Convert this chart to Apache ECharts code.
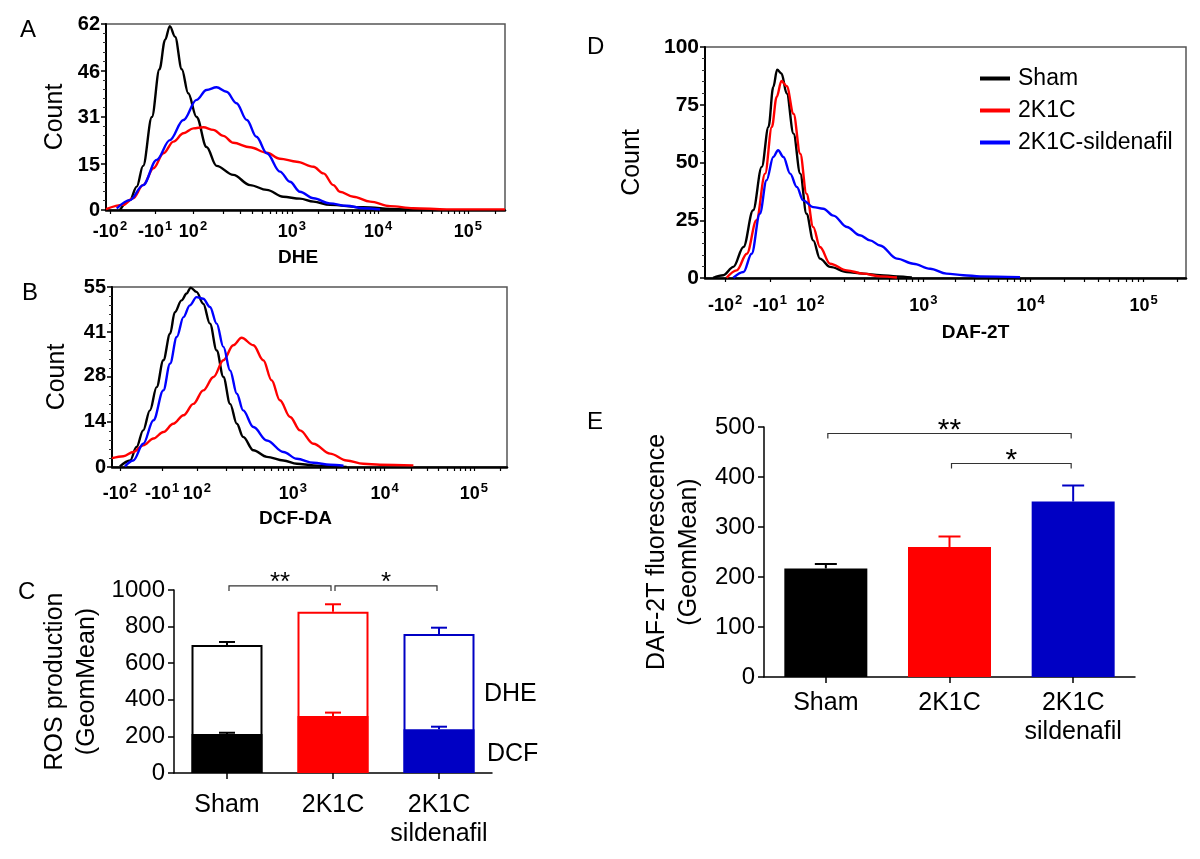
<!DOCTYPE html>
<html>
<head>
<meta charset="utf-8">
<script src="https://cdn.jsdelivr.net/npm/echarts@6/dist/echarts.min.js"></script>
<style>
html,body{margin:0;padding:0;background:#fff}
#main{width:1200px;height:859px}
</style>
</head>
<body>
<div id="main"></div>
<script>
// 直方图 x 轴按显示通道 (0-1000) 记，数据为 [通道, 计数]
// A: DHE
var dheSham = [[35,0],[60,3.3],[77,7.8],[93,14.7],[115,31],[134,46.9],[148,56.7],[160,61.3],[173,57.8],[190,46.9],[206,38.9],[227,31],[252,21],[277,14.7],[319,11.7],[361,8.3],[403,6.7],[444,4.4],[486,3.8],[520,2.8],[561,1.7],[645,0.9],[729,0.3],[812,0]];
var dhe2K1C = [[0,0.3],[43,1.7],[68,3.9],[93,8.3],[119,13.9],[144,18.9],[169,22.8],[194,25.6],[219,27.2],[244,27.6],[269,26.7],[294,24.7],[319,22.4],[361,20.9],[403,19.1],[436,17.1],[478,16.1],[520,14.4],[545,12.2],[570,8.3],[586,6.1],[620,4.4],[662,2.8],[712,1.3],[770,0.6],[854,0.2],[1000,0.2]];
var dheSil = [[27,0.5],[60,3.3],[93,8.3],[127,16.7],[160,23.3],[194,30],[227,36.7],[252,40],[277,40.9],[302,39.4],[327,35.6],[353,30],[377,24.4],[403,18.9],[436,12.8],[461,9.4],[486,6.1],[520,3.9],[561,2.2],[603,1.4],[645,0.6],[687,0.2]];
// B: DCF-DA
var dcfSham = [[20,0.2],[46,2],[62,6.1],[79,11.2],[96,17.3],[113,24.4],[130,32.6],[147,40.7],[159,47.3],[176,50.9],[189,53],[199,54.8],[214,53.5],[231,49.9],[248,43.8],[265,35.6],[282,27.5],[299,19.3],[316,13.2],[332,9.2],[358,5.1],[392,3.1],[434,2],[468,1],[510,0.5],[552,0.2],[594,0]];
var dcf2K1C = [[0,2.7],[29,3.3],[54,4.6],[79,6.6],[105,8.7],[130,10.7],[155,13.2],[181,15.8],[206,19.3],[231,23.4],[257,27.5],[282,32.6],[307,37.2],[328,39.5],[358,37.2],[383,32.6],[404,26.5],[425,20.4],[451,15.3],[476,11.2],[510,7.1],[552,4.1],[594,2],[636,1],[678,0.7],[763,0.5]];
var dcfSil = [[33,0.2],[54,2],[79,7.1],[105,14.3],[130,23.4],[147,31.6],[164,39.7],[181,45.8],[197,49.4],[214,51.9],[231,51.4],[248,48.9],[265,43.8],[282,36.7],[299,29.5],[316,22.4],[332,17.3],[358,12.2],[392,8.1],[434,4.6],[468,2.5],[510,1.3],[552,0.7],[586,0.4]];
// D: DAF-2T
var dafSham = [[17,0.1],[38,1.2],[59,4.8],[80,13.4],[100,29.3],[118,48.1],[132,65.4],[142,82.7],[150,90.2],[159,88.5],[170,79.8],[184,62.5],[198,45.2],[211,27.8],[225,16.3],[239,8.4],[260,4.8],[295,2.6],[329,1.9],[364,1.2],[399,0.7],[430,0.2]];
var daf2K1C = [[45,0.1],[66,3.3],[87,10.5],[107,25],[125,45.2],[139,65.4],[149,78.4],[159,85.3],[170,83],[184,71.1],[198,53.8],[211,36.5],[225,22.1],[239,13.4],[260,6.2],[295,3.3],[329,1.9],[364,0.7],[399,0.2]];
var dafSil = [[59,0.1],[80,2.6],[97,10.5],[114,27.8],[128,42.3],[142,52.4],[152,55.3],[163,52.4],[177,45.2],[191,39.4],[204,33.6],[225,30.7],[246,30],[267,27],[295,22.1],[322,18.5],[343,16.3],[364,14.1],[399,8.4],[433,6.2],[468,4],[502,1.9],[537,1.2],[572,0.7],[655,0.4]];

// 刻度
var xTickLabels = ['-10{s|2}','-10{s|1}','10{s|2}','10{s|3}','10{s|4}','10{s|5}'];
var xTicksA = [10,123,218,466,682,907];
var xTicksB = [20,127,215,458,690,916];
var xTicksD = [42,135,219,454,677,912];
var yTicksA = [0,15,31,46,62];
var yTicksB = [0,14,28,41,55];
var yTicksD = [0,25,50,75,100];

// 柱状图
var groups = ['Sham','2K1C','2K1C\nsildenafil'];
var groupColors = ['#000000','#ff0000','#0000c4'];
var rosDhe = [700,881,760];
var rosDheErr = [16,41,34];
var rosDcf = [213,311,239];
var rosDcfErr = [7,19,14];
var dafMean = [217,260,351];
var dafErr = [9,21,32];
// 显著性 [起始组, 结束组, 高度]
var rosSig = [[0,1,1022],[1,2,1022]];
var rosSigText = ['**','*'];
var dafSig = [[0,2,487],[1,2,427]];
var dafSigText = ['**','*'];

var ff = '"Liberation Sans", Arial, sans-serif';
var lineColors = ['#000000','#ff0000','#0000ff'];

// 主刻度 + 对数小刻度
function tickMarks(ticks){
	var out = ticks.slice();
	for (var i = 2; i < ticks.length; i++) {
		var step = i < ticks.length-1 ? ticks[i+1]-ticks[i] : ticks[i]-ticks[i-1];
		for (var k = 2; k < 10; k++) {
			var p = ticks[i] + step*Math.log10(k);
			if (p < 1000) out.push(Math.round(p*10)/10);
		}
	}
	return out;
}
function histX(idx, ticks, name, nameGap, namePad, labelMargin){
	return {
		type:'value', gridIndex:idx, min:0, max:1000,
		name:name, nameLocation:'middle', nameGap:nameGap,
		nameTextStyle:{fontSize:19, fontWeight:'bold', color:'#000', padding:namePad},
		axisLine:{show:true, lineStyle:{color:'#000', width:2.5}},
		axisTick:{show:true, customValues:tickMarks(ticks), length:4, lineStyle:{color:'#000', width:1.2}},
		splitLine:{show:false},
		axisLabel:{
			customValues:ticks, margin:labelMargin, color:'#000', fontSize:18, fontWeight:'bold', lineHeight:24,
			formatter:function(v){ return xTickLabels[ticks.indexOf(v)]; },
			rich:{s:{fontSize:13, fontWeight:'bold', verticalAlign:'top', lineHeight:12, padding:[0,0,0,1]}}
		}
	};
}
function histY(idx, ticks, nameGap, fs){
	return {
		type:'value', gridIndex:idx, min:0, max:ticks[ticks.length-1],
		interval:ticks[ticks.length-1]/4,
		name:'Count', nameLocation:'middle', nameGap:nameGap,
		nameTextStyle:{fontSize:25, color:'#000'},
		axisLine:{show:true, lineStyle:{color:'#000', width:2}},
		axisTick:{show:true, length:5, lineStyle:{color:'#000', width:1.5}},
		minorTick:{show:true, splitNumber:5, length:3, lineStyle:{color:'#333'}},
		splitLine:{show:false},
		axisLabel:{customValues:ticks, color:'#000', fontSize:fs, fontWeight:'bold', margin:6}
	};
}
function histLine(name, data, idx, color){
	return {
		name:name, type:'line', xAxisIndex:idx, yAxisIndex:idx, data:data,
		showSymbol:false, smooth:0.35, smoothMonotone:'x',
		lineStyle:{color:color, width:2.4}, itemStyle:{color:color}, z:3
	};
}
function errorItem(cap){
	return function(params, api){
		var i = api.value(0), v = api.value(1), e = api.value(2);
		var p0 = api.coord([i, v]), p1 = api.coord([i, v + e]);
		var c = groupColors[i];
		return {type:'group', children:[
			{type:'line', shape:{x1:p0[0], y1:p0[1], x2:p1[0], y2:p1[1]}, style:{stroke:c, lineWidth:2}},
			{type:'line', shape:{x1:p1[0]-cap, y1:p1[1], x2:p1[0]+cap, y2:p1[1]}, style:{stroke:c, lineWidth:2}}
		]};
	};
}
function sigItem(texts, fs){
	return function(params, api){
		var a = api.coord([api.value(0), api.value(2)]);
		var b = api.coord([api.value(1), api.value(2)]);
		var x1 = a[0] + 2, x2 = b[0] - 2, y = a[1];
		return {type:'group', children:[
			{type:'polyline', shape:{points:[[x1,y+5],[x1,y],[x2,y],[x2,y+5]]}, style:{stroke:'#333', lineWidth:1.2, fill:null}},
			{type:'text', style:{text:texts[params.dataIndex], x:(x1+x2)/2, y:y-3, align:'center', verticalAlign:'middle', fontSize:fs, fontFamily:ff, fill:'#000'}}
		]};
	};
}
function barX(idx, margin){
	return {
		type:'category', gridIndex:idx, data:groups,
		axisLine:{show:true, lineStyle:{color:'#000', width:1.5}},
		axisTick:{show:true, alignWithLabel:true, length:6, lineStyle:{color:'#000', width:1.5}},
		axisLabel:{color:'#000', fontSize:25, margin:margin, lineHeight:29, interval:0}
	};
}
function barY(idx, max, interval, name, nameGap){
	return {
		type:'value', gridIndex:idx, min:0, max:max, interval:interval,
		name:name, nameLocation:'middle', nameGap:nameGap,
		nameTextStyle:{fontSize:25, color:'#000', lineHeight:32},
		axisLine:{show:true, lineStyle:{color:'#000', width:1.5}},
		axisTick:{show:true, length:6, lineStyle:{color:'#000', width:1.5}},
		splitLine:{show:false},
		axisLabel:{color:'#000', fontSize:24, margin:9, formatter:function(v){ return String(v); }}
	};
}
function idxData(vals, errs){
	var out = [];
	for (var i = 0; i < vals.length; i++) {
		out.push([i, vals[i], errs[i]]);
	}
	return out;
}
function coloredItems(vals, fill){
	var out = [];
	for (var i = 0; i < vals.length; i++) {
		out.push({value:vals[i], itemStyle:{color:fill ? groupColors[i] : '#fff', borderColor:groupColors[i], borderWidth:2}});
	}
	return out;
}

var frame = {show:true, borderColor:'#555', borderWidth:1.5, backgroundColor:'transparent'};

var option = {
	animation:false,
	backgroundColor:'#fff',
	textStyle:{fontFamily:ff},
	grid:[
		Object.assign({left:106, top:24, width:399, height:186}, frame),
		Object.assign({left:112, top:287, width:395, height:180}, frame),
		{left:174, top:590, width:318, height:183},
		Object.assign({left:705, top:47, width:481, height:231}, frame),
		{left:764, top:427, width:371, height:250}
	],
	xAxis:[
		histX(0, xTicksA, 'DHE', 38, [0,15,0,0], 10),
		histX(1, xTicksB, 'DCF-DA', 42, [0,28,0,0], 15),
		barX(2, 18),
		histX(3, xTicksD, 'DAF-2T', 45, [0,0,0,60], 16),
		barX(4, 12)
	],
	yAxis:[
		histY(0, yTicksA, 38, 20),
		histY(1, yTicksB, 42, 20),
		barY(2, 1000, 200, 'ROS production\n(GeomMean)', 71),
		histY(3, yTicksD, 60, 21),
		barY(4, 500, 100, 'DAF-2T fluorescence\n(GeomMean)', 59)
	],
	legend:{
		left:975, top:62, orient:'vertical', itemWidth:30, itemHeight:4, itemGap:9,
		textStyle:{fontSize:23, color:'#000', padding:[0,0,0,3]},
		data:[{name:'Sham', icon:'rect'},{name:'2K1C', icon:'rect'},{name:'2K1C-sildenafil', icon:'rect'}]
	},
	graphic:[
		{type:'text', left:20, top:18, style:{text:'A', fontSize:24, fontFamily:ff, fill:'#000'}},
		{type:'text', left:22, top:281, style:{text:'B', fontSize:24, fontFamily:ff, fill:'#000'}},
		{type:'text', left:18, top:580, style:{text:'C', fontSize:24, fontFamily:ff, fill:'#000'}},
		{type:'text', left:587, top:35, style:{text:'D', fontSize:24, fontFamily:ff, fill:'#000'}},
		{type:'text', left:587, top:410, style:{text:'E', fontSize:24, fontFamily:ff, fill:'#000'}},
		{type:'text', left:484, top:682, style:{text:'DHE', fontSize:25, fontFamily:ff, fill:'#000'}},
		{type:'text', left:487, top:742, style:{text:'DCF', fontSize:25, fontFamily:ff, fill:'#000'}}
	],
	series:[
		histLine('DHE Sham', dheSham, 0, lineColors[0]),
		histLine('DHE 2K1C', dhe2K1C, 0, lineColors[1]),
		histLine('DHE 2K1C-sildenafil', dheSil, 0, lineColors[2]),
		histLine('DCF Sham', dcfSham, 1, lineColors[0]),
		histLine('DCF 2K1C', dcf2K1C, 1, lineColors[1]),
		histLine('DCF 2K1C-sildenafil', dcfSil, 1, lineColors[2]),
		histLine('Sham', dafSham, 3, lineColors[0]),
		histLine('2K1C', daf2K1C, 3, lineColors[1]),
		histLine('2K1C-sildenafil', dafSil, 3, lineColors[2]),
		{name:'DHE', type:'bar', xAxisIndex:2, yAxisIndex:2, barWidth:71, barGap:'-100%', data:coloredItems(rosDhe, false)},
		{name:'DCF', type:'bar', xAxisIndex:2, yAxisIndex:2, barWidth:71, barGap:'-100%', data:coloredItems(rosDcf, true)},
		{type:'custom', xAxisIndex:2, yAxisIndex:2, renderItem:errorItem(8), data:idxData(rosDhe, rosDheErr), z:5},
		{type:'custom', xAxisIndex:2, yAxisIndex:2, renderItem:errorItem(8), data:idxData(rosDcf, rosDcfErr), z:5},
		{type:'custom', xAxisIndex:2, yAxisIndex:2, renderItem:sigItem(rosSigText, 26), data:rosSig, z:5},
		{name:'DAF-2T', type:'bar', xAxisIndex:4, yAxisIndex:4, barWidth:83, data:coloredItems(dafMean, true)},
		{type:'custom', xAxisIndex:4, yAxisIndex:4, renderItem:errorItem(11), data:idxData(dafMean, dafErr), z:5},
		{type:'custom', xAxisIndex:4, yAxisIndex:4, renderItem:sigItem(dafSigText, 30), data:dafSig, z:5}
	]
};

var chart = echarts.init(document.getElementById('main'));
chart.setOption(option);
</script>
</body>
</html>
